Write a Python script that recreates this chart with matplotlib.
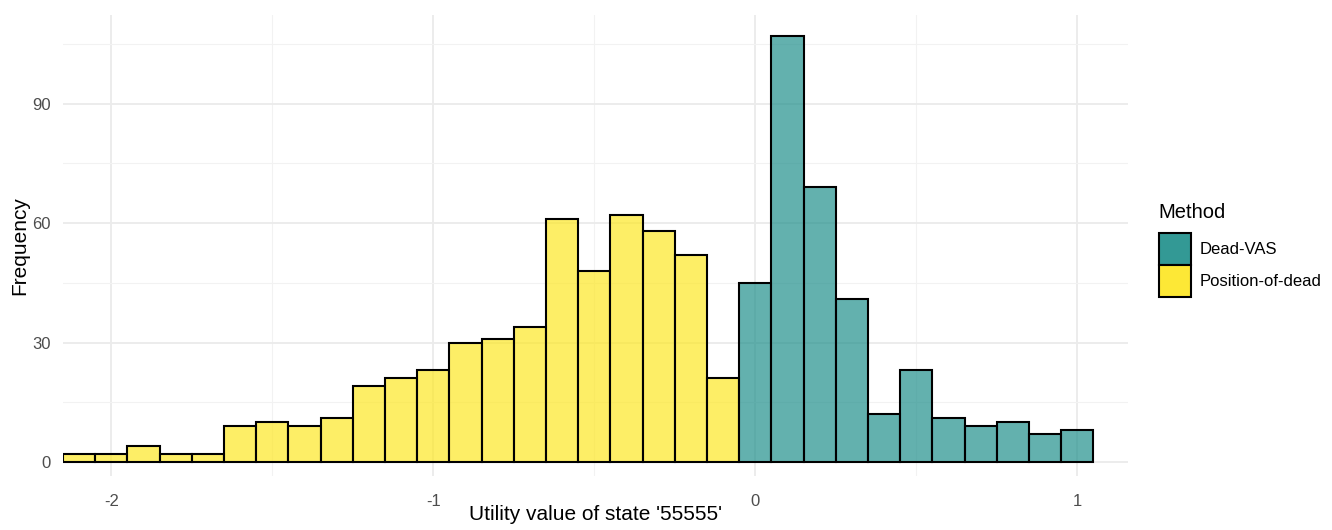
import matplotlib.pyplot as plt
from matplotlib.patches import Patch
from matplotlib.colors import to_rgba

plt.rcParams['font.family'] = ['Liberation Sans', 'DejaVu Sans']

# bin centres (width 0.1) and counts
pod_centers = [-2.1, -2.0, -1.9, -1.8, -1.7, -1.6, -1.5, -1.4, -1.3, -1.2, -1.1,
               -1.0, -0.9, -0.8, -0.7, -0.6, -0.5, -0.4, -0.3, -0.2, -0.1]
pod_counts = [2, 2, 4, 2, 2, 9, 10, 9, 11, 19, 21, 23, 30, 31, 34, 61, 48, 62, 58, 52, 21]

vas_centers = [0.0, 0.1, 0.2, 0.3, 0.4, 0.5, 0.6, 0.7, 0.8, 0.9, 1.0]
vas_counts = [45, 107, 69, 41, 12, 23, 11, 9, 10, 7, 8]

teal = '#21908C'
yellow = '#FDE725'
grey = '#4D4D4D'

fig = plt.figure(figsize=(13.32, 5.30), dpi=100)
ax = fig.add_axes([0.0473, 0.1019, 0.7995, 0.8698])

ax.bar(pod_centers, pod_counts, width=0.1, color=to_rgba(yellow, 0.7),
       edgecolor='black', linewidth=1.5, zorder=3)
ax.bar(vas_centers, vas_counts, width=0.1, color=to_rgba(teal, 0.7),
       edgecolor='black', linewidth=1.5, zorder=3)

ax.set_xlim(-2.15, 1.157)
ax.set_ylim(-3.5, 112.3)
ax.set_xticks([-2, -1, 0, 1])
ax.set_xticklabels(['-2', '-1', '0', '1'])
ax.set_yticks([0, 30, 60, 90])
ax.set_xticks([-1.5, -0.5, 0.5], minor=True)
ax.set_yticks([15, 45, 75, 105], minor=True)

ax.grid(which='major', color='#EBEBEB', linewidth=1.3, zorder=0)
ax.grid(which='minor', color='#F2F2F2', linewidth=0.8, zorder=0)
ax.set_axisbelow(True)
for s in ax.spines.values():
    s.set_visible(False)
ax.tick_params(which='both', length=0, labelsize=12, labelcolor=grey)
ax.tick_params(axis='x', pad=13)
ax.tick_params(axis='y', pad=9)

ax.set_xlabel("Utility value of state '55555'", fontsize=15, labelpad=-3)
ax.set_ylabel('Frequency', fontsize=15, labelpad=2)

handles = [Patch(facecolor=to_rgba(teal, 0.92), edgecolor='black', linewidth=1.5, label='Dead-VAS'),
           Patch(facecolor=to_rgba(yellow, 0.92), edgecolor='black', linewidth=1.5, label='Position-of-dead')]
leg = fig.legend(handles=handles, title='Method', loc='upper left',
                 bbox_to_anchor=(0.865, 0.63), frameon=False, fontsize=12,
                 title_fontsize=14.5, handlelength=1.9, handleheight=2.6,
                 handletextpad=0.55, labelspacing=0.0, borderaxespad=0)
leg._legend_box.align = 'left'
leg._legend_box.sep = 8

fig.savefig('out.png', dpi=100)
